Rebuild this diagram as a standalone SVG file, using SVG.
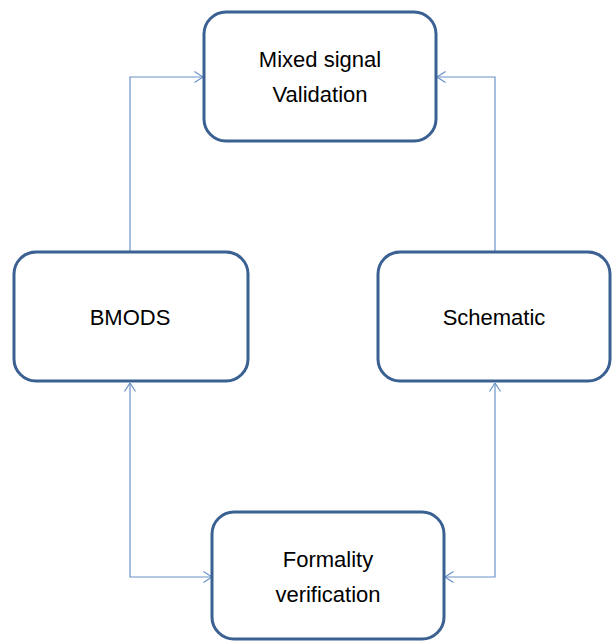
<svg xmlns="http://www.w3.org/2000/svg" width="612" height="641" viewBox="0 0 612 641">
<style>
.box{fill:#fff;stroke:#3b6192;stroke-width:3}
.lbl{font-family:"Liberation Sans",Arial,sans-serif;font-size:22px;fill:#000;text-anchor:middle}
.con{fill:none;stroke:#6a92c8;stroke-width:1.2}
</style>
<defs>
<marker id="arr" viewBox="0 0 10 12" refX="9.5" refY="6" markerWidth="10" markerHeight="12" markerUnits="userSpaceOnUse" orient="auto-start-reverse">
<path d="M1,0.5 L9.5,6 L1,11.5" fill="none" stroke="#6a92c8" stroke-width="1.2"/>
</marker>
</defs>
<rect width="612" height="641" fill="#fff"/>
<g id="connectors">
<path class="con" d="M130,252 V77 H203" marker-end="url(#arr)"/>
<path class="con" d="M495,252 V77 H437" marker-end="url(#arr)"/>
<path class="con" d="M130,383 V577 H212" marker-start="url(#arr)" marker-end="url(#arr)"/>
<path class="con" d="M495,383 V577 H445" marker-start="url(#arr)" marker-end="url(#arr)"/>
</g>
<g id="mixed">
<rect class="box" x="204" y="12" width="232" height="129" rx="22"/>
<text class="lbl" x="320" y="67">Mixed signal</text>
<text class="lbl" x="320" y="102">Validation</text>
</g>
<g id="bmods">
<rect class="box" x="14" y="252" width="234" height="129" rx="22"/>
<text class="lbl" x="130" y="325">BMODS</text>
</g>
<g id="schematic">
<rect class="box" x="378" y="252" width="232" height="129" rx="22"/>
<text class="lbl" x="494" y="325">Schematic</text>
</g>
<g id="formality">
<rect class="box" x="212" y="512" width="232" height="127" rx="22"/>
<text class="lbl" x="328" y="567">Formality</text>
<text class="lbl" x="328" y="602">verification</text>
</g>
</svg>
